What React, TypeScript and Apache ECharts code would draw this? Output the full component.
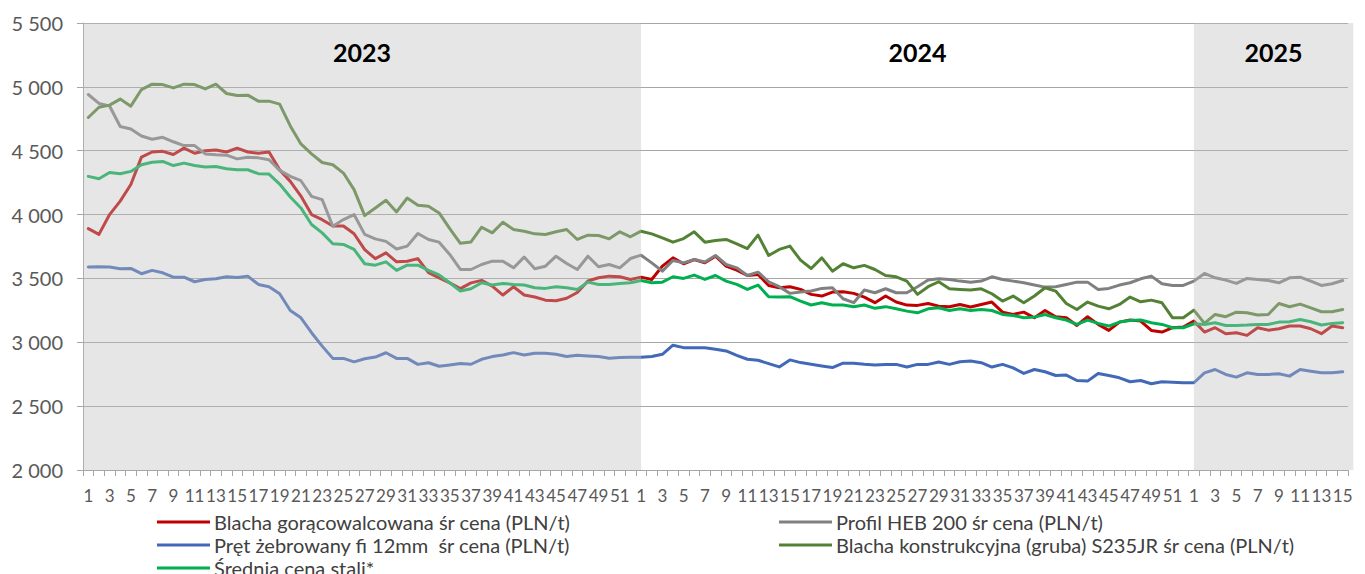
import React, { useEffect, useRef } from "react";
import * as echarts from "echarts";

const years = ["2023", "2024", "2025"];
const weeksPerYear = [52, 52, 15];
const shadedYears = [true, false, true];

const yTicks = { min: 2000, max: 5500, interval: 500 };

const blachaGoraco = [
  3890, 3845, 4000, 4105, 4235, 4450, 4490, 4495, 4470, 4520, 4480, 4500, 4505, 4490, 4520, 4490, 4480, 4490, 4350, 4260,
  4145, 4000, 3960, 3910, 3910, 3850, 3725, 3655, 3700, 3630, 3635, 3655, 3545, 3505, 3465, 3420, 3465, 3485, 3440, 3370,
  3435, 3370, 3355, 3330, 3325, 3345, 3390, 3480, 3505, 3518, 3513, 3492,
  3510, 3492, 3596, 3661, 3615, 3648, 3622, 3674, 3596, 3565, 3523, 3531, 3445, 3427, 3435, 3414, 3375, 3362, 3393, 3396,
  3383, 3354, 3310, 3362, 3315, 3291, 3289, 3304, 3283, 3278, 3296, 3276, 3296, 3315, 3236, 3218, 3236, 3192, 3249, 3200,
  3192, 3132, 3200, 3140, 3093, 3158, 3174, 3166, 3093, 3080, 3114, 3119,
  3166, 3080, 3114, 3067, 3075, 3054, 3114, 3095, 3106, 3127, 3127, 3106, 3067, 3127, 3114,
];

const profilHeb = [
  4940, 4870, 4850, 4690, 4670, 4615, 4590, 4605, 4570, 4540, 4540, 4475, 4468, 4465, 4436, 4449, 4444, 4429, 4346, 4299,
  4265, 4143, 4117, 3909, 3961, 4000, 3845, 3810, 3790, 3730, 3753, 3852, 3805, 3784, 3688, 3570, 3570, 3609, 3635, 3635,
  3583, 3667, 3576, 3596, 3674, 3617, 3570, 3674, 3591, 3609, 3583, 3656,
  3682, 3622, 3557, 3641, 3622, 3648, 3628, 3680, 3609, 3583, 3523, 3549, 3474, 3435, 3383, 3393, 3401, 3422, 3427, 3341,
  3310, 3409, 3388, 3419, 3388, 3388, 3435, 3487, 3497, 3492, 3479, 3471, 3479, 3513, 3492, 3479, 3466, 3448, 3432, 3435,
  3453, 3471, 3471, 3414, 3422, 3448, 3466, 3497, 3518, 3458, 3445, 3445,
  3479, 3539, 3505, 3487, 3461, 3500, 3492, 3484, 3466, 3505, 3510, 3479, 3445, 3458, 3484,
];

const pretZebrowany = [
  3589, 3591, 3589, 3576, 3578, 3537, 3563, 3544, 3510, 3510, 3474, 3492, 3497, 3513, 3508, 3518, 3453, 3435, 3380, 3249,
  3192, 3075, 2970, 2874, 2874, 2847, 2871, 2884, 2918, 2874, 2874, 2827, 2840, 2812, 2823, 2833, 2828, 2867, 2888, 2901,
  2919, 2901, 2914, 2914, 2906, 2888, 2898, 2893, 2888, 2875, 2880, 2883,
  2883, 2888, 2906, 2977, 2958, 2958, 2958, 2945, 2932, 2898, 2867, 2859, 2833, 2807, 2862, 2841, 2828, 2815, 2802, 2836,
  2836, 2828, 2823, 2826, 2827, 2806, 2827, 2827, 2845, 2827, 2848, 2853, 2840, 2806, 2827, 2800, 2756, 2787, 2769, 2740,
  2743, 2701, 2696, 2756, 2740, 2722, 2691, 2701, 2675, 2691, 2688, 2683,
  2683, 2761, 2787, 2748, 2727, 2761, 2748, 2748, 2753, 2735, 2787, 2774, 2761, 2761, 2769,
];

const blachaKonstr = [
  4760, 4840, 4857, 4904, 4849, 4979, 5021, 5018, 4992, 5021, 5018, 4984, 5021, 4948, 4932, 4935, 4888, 4888, 4865, 4694,
  4553, 4475, 4408, 4390, 4325, 4195, 3992, 4052, 4112, 4021, 4130, 4073, 4065, 4013, 3890, 3775, 3786, 3901, 3857, 3940,
  3883, 3870, 3849, 3844, 3865, 3883, 3805, 3839, 3836, 3810, 3865, 3826,
  3870, 3849, 3818, 3784, 3812, 3865, 3784, 3797, 3805, 3771, 3734, 3839, 3680, 3727, 3753, 3643, 3578, 3661, 3557, 3615,
  3583, 3602, 3570, 3523, 3513, 3479, 3375, 3435, 3474, 3419, 3414, 3409, 3419, 3380, 3323, 3362, 3309, 3362, 3427, 3401,
  3304, 3257, 3315, 3283, 3262, 3296, 3354, 3317, 3330, 3309, 3192, 3192,
  3252, 3148, 3218, 3200, 3236, 3231, 3213, 3218, 3304, 3278, 3299, 3270, 3239, 3239, 3257,
];

const sredniaCena = [
  4299, 4281, 4330, 4320, 4338, 4390, 4410, 4416, 4384, 4403, 4384, 4372, 4377, 4359, 4351, 4351, 4320, 4317, 4239, 4138,
  4052, 3922, 3857, 3771, 3766, 3727, 3615, 3604, 3630, 3563, 3604, 3604, 3563, 3527, 3466, 3401, 3419, 3466, 3448, 3461,
  3453, 3448, 3427, 3422, 3435, 3427, 3414, 3471, 3453, 3453, 3461, 3466,
  3484, 3466, 3471, 3513, 3500, 3526, 3492, 3523, 3479, 3453, 3414, 3448, 3357, 3354, 3357, 3323, 3292, 3310, 3292, 3292,
  3279, 3292, 3266, 3279, 3262, 3244, 3231, 3262, 3270, 3249, 3262, 3249, 3257, 3249, 3218, 3210, 3192, 3197, 3218, 3192,
  3174, 3140, 3174, 3148, 3127, 3158, 3171, 3174, 3153, 3140, 3114, 3114,
  3145, 3140, 3153, 3132, 3132, 3135, 3140, 3140, 3158, 3161, 3179, 3161, 3135, 3148, 3153,
];

const seriesDefs = [
  { name: "Blacha gorącowalcowana śr cena (PLN/t)", data: blachaGoraco, color: "#C00000" },
  { name: "Profil HEB 200 śr cena (PLN/t)", data: profilHeb, color: "#808080" },
  { name: "Pręt żebrowany fi 12mm  śr cena (PLN/t)", data: pretZebrowany, color: "#4169B8" },
  { name: "Blacha konstrukcyjna (gruba) S235JR śr cena (PLN/t)", data: blachaKonstr, color: "#548235" },
  { name: "Średnia cena stali*", data: sredniaCena, color: "#00B050" },
];

// legend grid: [column, row] for each series, Excel-like row-wise order
const legendCells = [
  [0, 0],
  [1, 0],
  [0, 1],
  [1, 1],
  [0, 2],
];
const legendColumnsLeft = [157, 779];
const legendRowsTop = [512, 535, 558];

const FONT = "Lato, 'Open Sans', sans-serif";

function buildCategories(): string[] {
  const cats: string[] = [];
  weeksPerYear.forEach((n) => {
    for (let w = 1; w <= n; w++) cats.push(String(w));
  });
  return cats;
}

function buildBands() {
  const bands: any[] = [];
  const lastIdx = weeksPerYear.reduce((a, b) => a + b, 0) - 1;
  let start = 0;
  weeksPerYear.forEach((n, i) => {
    const end = start + n;
    bands.push({ value: [start, Math.min(end, lastIdx), yTicks.min, shadedYears[i] ? 1 : 0], name: years[i] });
    start = end;
  });
  return bands;
}

export default function App() {
  const ref = useRef<HTMLDivElement>(null);
  useEffect(() => {
    if (!ref.current) return;
    const chart = echarts.init(ref.current, undefined, { renderer: "svg" });
    const categories = buildCategories();
    const lastIdx = categories.length - 1;
    const bands = buildBands();
    const fmt = (v: number) => String(v).replace(/\B(?=(\d{3})+(?!\d))/g, " ");

    const lineSeries = seriesDefs.map((s) => ({
      name: s.name,
      type: "line",
      data: s.data,
      symbol: "none",
      showSymbol: false,
      z: 2,
      itemStyle: { color: s.color },
      lineStyle: { color: s.color, width: 3, join: "round", cap: "round" },
    }));

    const legends = seriesDefs.map((s, i) => ({
      show: true,
      orient: "horizontal",
      left: legendColumnsLeft[legendCells[i][0]],
      top: legendRowsTop[legendCells[i][1]],
      padding: 0,
      icon: "rect",
      itemWidth: 53,
      itemHeight: 3,
      itemGap: 0,
      selectedMode: false,
      data: [s.name],
      textStyle: { fontFamily: FONT, fontSize: 20, color: "#404040", padding: [0, 0, 0, -1] },
    }));

    const bandSeries = {
      type: "custom",
      z: 10,
      silent: true,
      clip: false,
      encode: { x: [0, 1], y: 2 },
      data: bands,
      renderItem: (params: any, api: any) => {
        const from = api.value(0);
        const to = api.value(1);
        const shaded = api.value(3) === 1;
        const bw = api.size([1, 0])[0];
        const cs = params.coordSys;
        const top = cs.y;
        const height = cs.height;
        const x0 = from === 0 ? api.coord([0, yTicks.min])[0] - bw / 2 : api.coord([from, yTicks.min])[0];
        const x1 = to === lastIdx ? api.coord([to, yTicks.min])[0] + bw : api.coord([to, yTicks.min])[0];
        const children: any[] = [];
        if (shaded) {
          children.push({
            type: "rect",
            shape: { x: x0, y: top, width: x1 - x0, height },
            style: { fill: "rgba(191,191,191,0.39)" },
          });
        }
        children.push({
          type: "text",
          style: {
            text: years[params.dataIndex],
            x: (x0 + x1) / 2,
            y: top + 29,
            textAlign: "center",
            textVerticalAlign: "middle",
            fontFamily: FONT,
            fontWeight: "bold",
            fontSize: 25,
            fill: "#000000",
          },
        });
        return { type: "group", children };
      },
    };

    chart.setOption({
      animation: false,
      backgroundColor: "#ffffff",
      grid: { left: 83, right: 17, top: 23, bottom: 104, containLabel: false },
      legend: legends,
      xAxis: {
        type: "category",
        data: categories,
        boundaryGap: true,
        axisLine: { show: true, lineStyle: { color: "#A6A6A6", width: 1 } },
        axisTick: { show: true, interval: 0, length: 6, lineStyle: { color: "#A6A6A6" } },
        axisLabel: { interval: 1, margin: 17, fontFamily: FONT, fontSize: 17, color: "#595959" },
        splitLine: { show: false },
      },
      yAxis: {
        type: "value",
        min: yTicks.min,
        max: yTicks.max,
        interval: yTicks.interval,
        axisLine: { show: true, lineStyle: { color: "#A6A6A6", width: 1 } },
        axisTick: { show: true, length: 6, lineStyle: { color: "#A6A6A6" } },
        axisLabel: { margin: 20, fontFamily: FONT, fontSize: 20, color: "#595959", formatter: fmt },
        splitLine: { show: true, lineStyle: { color: "#A6A6A6", width: 1 } },
      },
      series: [...lineSeries, bandSeries],
    });
    return () => chart.dispose();
  }, []);

  return (
    <div
      ref={ref}
      style={{ position: "fixed", left: 0, top: 0, width: 1365, height: 574, background: "#fff" }}
    />
  );
}
